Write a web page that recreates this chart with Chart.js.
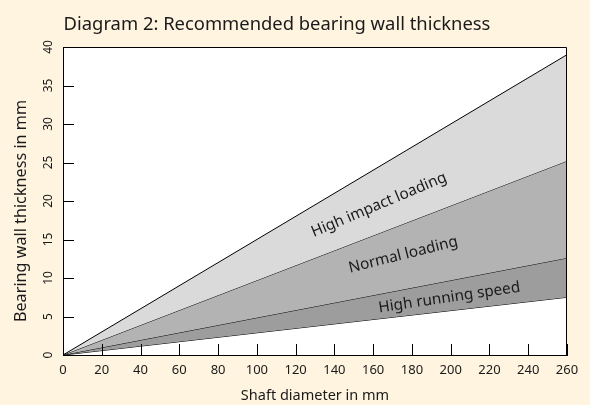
<!DOCTYPE html>
<html>
<head>
<meta charset="utf-8">
<script src="https://cdn.jsdelivr.net/npm/chart.js@4.4.1/dist/chart.umd.min.js"></script>
<style>
  html, body { margin: 0; padding: 0; background: #fff4df; }
  canvas { display: block; }
</style>
</head>
<body>
<canvas id="myChart" width="590" height="405"></canvas>
<script>
// shaft diameter (mm) -> recommended wall thickness (mm), straight lines from origin
const shaftDiameter = [0, 260];
const highImpactTop = [0, 39];
const normalTop = [0, 25.2];
const speedTop = [0, 12.6];
const speedBottom = [0, 7.5];
const xTicks = [0, 20, 40, 60, 80, 100, 120, 140, 160, 180, 200, 220, 240, 260];
const yTicks = [0, 5, 10, 15, 20, 25, 30, 35, 40];
const bandNames = ['High impact loading', 'Normal loading', 'High running speed'];

const FONT = '"Noto Sans", "Open Sans", sans-serif';
const INK = '#1a1a1a';

function points(ys) {
  return shaftDiameter.map((x, i) => ({ x: x, y: ys[i] }));
}

function line(ys, fill, color) {
  return {
    data: points(ys),
    borderColor: '#000',
    borderWidth: 1,
    backgroundColor: color,
    fill: fill,
    pointRadius: 0,
    tension: 0
  };
}

const extras = {
  id: 'extras',
  beforeDraw(chart) {
    const { ctx, chartArea: a } = chart;
    ctx.save();
    ctx.fillStyle = '#fff';
    ctx.fillRect(a.left, a.top, a.right - a.left, a.bottom - a.top);
    ctx.restore();
  },
  afterDraw(chart) {
    const { ctx, chartArea: a, scales: { x, y } } = chart;
    ctx.save();
    ctx.strokeStyle = '#000';
    ctx.lineWidth = 1;
    ctx.beginPath();
    // top and right frame
    ctx.moveTo(a.left, a.top + 0.5);
    ctx.lineTo(a.right - 0.5, a.top + 0.5);
    ctx.lineTo(a.right - 0.5, a.bottom);
    // inward tick marks
    xTicks.forEach(v => {
      const px = Math.round(x.getPixelForValue(v)) + 0.5;
      ctx.moveTo(px, a.bottom);
      ctx.lineTo(px, a.bottom - 11);
    });
    yTicks.forEach(v => {
      const py = Math.round(y.getPixelForValue(v)) + 0.5;
      ctx.moveTo(a.left, py);
      ctx.lineTo(a.left + 11, py);
    });
    ctx.stroke();

    // title
    ctx.fillStyle = INK;
    ctx.font = '18.4px ' + FONT;
    ctx.textAlign = 'center';
    ctx.textBaseline = 'alphabetic';
    ctx.fillText('Diagram 2: Recommended bearing wall thickness', 277, 30);

    // y axis title (sits a little below the axis centre in the original)
    ctx.save();
    ctx.font = '16.2px ' + FONT;
    ctx.textBaseline = 'middle';
    ctx.translate(21, 211);
    ctx.rotate(-Math.PI / 2);
    ctx.fillText('Bearing wall thickness in mm', 0, 0);
    ctx.restore();

    // band labels, placed in data units
    const spots = [[163, 19.5, -22.8], [175.5, 13.0, -14], [199.3, 7.45, -8.4]];
    ctx.font = '15.3px ' + FONT;
    ctx.textBaseline = 'middle';
    bandNames.forEach((name, i) => {
      const [dx, dy, ang] = spots[i];
      ctx.save();
      ctx.translate(x.getPixelForValue(dx), y.getPixelForValue(dy));
      ctx.rotate(ang * Math.PI / 180);
      ctx.fillText(name, 0, 0);
      ctx.restore();
    });
    ctx.restore();
  }
};

new Chart(document.getElementById('myChart'), {
  type: 'line',
  data: {
    datasets: [
      line(highImpactTop, '+1', '#dadada'),
      line(normalTop, '+1', '#b3b3b3'),
      line(speedTop, '+1', '#9d9d9d'),
      line(speedBottom, false, 'transparent')
    ]
  },
  options: {
    responsive: false,
    animation: false,
    layout: { padding: { left: 0, top: 47, right: 23, bottom: 0 } },
    plugins: {
      legend: { display: false },
      tooltip: { enabled: false }
    },
    scales: {
      x: {
        type: 'linear',
        min: 0,
        max: 260,
        afterFit(scale) { scale.height = 50; },
        afterBuildTicks(scale) { scale.ticks = xTicks.map(v => ({ value: v })); },
        grid: { drawOnChartArea: false, drawTicks: false },
        border: { color: '#000', width: 1 },
        ticks: { color: INK, font: { family: FONT, size: 13 }, padding: 7, maxRotation: 0 },
        title: {
          display: true,
          text: 'Shaft diameter in mm',
          color: INK,
          font: { family: FONT, size: 14.5 },
          padding: { top: 0, bottom: 0 }
        }
      },
      y: {
        min: 0,
        max: 40,
        afterFit(scale) { scale.width = 63; },
        afterBuildTicks(scale) { scale.ticks = yTicks.map(v => ({ value: v })); },
        grid: { drawOnChartArea: false, drawTicks: false },
        border: { color: '#000', width: 1 },
        ticks: {
          color: INK,
          font: { family: FONT, size: 12 },
          padding: 8,
          crossAlign: 'center',
          minRotation: 90,
          maxRotation: 90
        },
        title: { display: false }
      }
    }
  },
  plugins: [extras]
});
</script>
</body>
</html>
